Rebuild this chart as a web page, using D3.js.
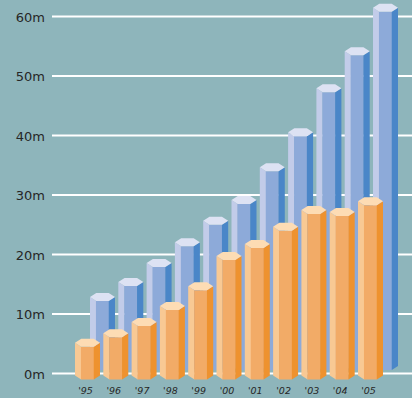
<!DOCTYPE html>
<html>
<head>
<meta charset="utf-8">
<script src="https://cdn.jsdelivr.net/npm/d3@7"></script>
<style>
  html, body { margin: 0; padding: 0; background: #8eb5bb; }
  svg { display: block; }
</style>
</head>
<body>
<div id="chart"></div>
<script>
// chart data
const years = ["'95", "'96", "'97", "'98", "'99", "'00", "'01", "'02", "'03", "'04", "'05"];
const backSeries = [11.6, 14.1, 17.3, 20.8, 24.4, 27.9, 33.4, 39.3, 46.7, 52.9, 60.2];   // blue, back row
const frontSeries = [5.5, 7.1, 9.0, 11.7, 15.0, 20.1, 22.1, 25.0, 27.8, 27.5, 29.3];   // orange, front row
const yTicks = [0, 10, 20, 30, 40, 50, 60];

const width = 412, height = 398;

const svg = d3.select('#chart').append('svg')
    .attr('width', width)
    .attr('height', height);

// scales
const x = d3.scaleBand()
    .domain(years)
    .range([75, 383])
    .paddingInner(0.117)
    .paddingOuter(0);

const y = d3.scaleLinear()
    .domain([0, 60])
    .range([373.5, 16.5]);

// gridlines
svg.append('g')
    .selectAll('line')
    .data(yTicks)
    .enter()
    .append('line')
    .attr('x1', 52)
    .attr('x2', width)
    .attr('y1', d => y(d))
    .attr('y2', d => y(d))
    .attr('stroke', '#ffffff')
    .attr('stroke-width', 2);

// y labels
svg.append('g')
    .selectAll('text')
    .data(yTicks)
    .enter()
    .append('text')
    .attr('x', 45)
    .attr('y', d => y(d) + 5)
    .attr('text-anchor', 'end')
    .attr('font-family', 'DejaVu Sans, Verdana, sans-serif')
    .attr('font-size', 13)
    .attr('fill', '#262626')
    .text(d => d + 'm');

// x labels
svg.append('g')
    .selectAll('text')
    .data(years)
    .enter()
    .append('text')
    .attr('x', d => x(d) + x.bandwidth() / 2 - 2)
    .attr('y', 394)
    .attr('text-anchor', 'middle')
    .attr('font-family', 'DejaVu Sans, Verdana, sans-serif')
    .attr('font-style', 'italic')
    .attr('font-size', 9.5)
    .attr('fill', '#262626')
    .text(d => d);

// hexagonal prism helper
const r = x.bandwidth() / 2;
const k = 4;

function pts(list) {
    return list.map(p => p.join(',')).join(' ');
}

function drawRow(values, dx, dy, colors) {
    const g = svg.append('g');
    const bars = g.selectAll('g')
        .data(values.map((v, i) => ({ year: years[i], value: v })))
        .enter()
        .append('g');

    const cxOf = d => x(d.year) + r + dx;
    const topOf = d => y(d.value) + dy;
    const base = y(0) + dy;

    bars.append('polygon')
        .attr('fill', colors.left)
        .attr('points', d => {
            const cx = cxOf(d), t = topOf(d);
            return pts([[cx - r, t], [cx - r / 2, t + k], [cx - r / 2, base + k], [cx - r, base]]);
        });

    bars.append('polygon')
        .attr('fill', colors.front)
        .attr('points', d => {
            const cx = cxOf(d), t = topOf(d);
            return pts([[cx - r / 2 - 0.3, t + k], [cx + r / 2 + 0.3, t + k], [cx + r / 2 + 0.3, base + k], [cx - r / 2 - 0.3, base + k]]);
        });

    bars.append('polygon')
        .attr('fill', colors.right)
        .attr('points', d => {
            const cx = cxOf(d), t = topOf(d);
            return pts([[cx + r / 2, t + k], [cx + r, t], [cx + r, base], [cx + r / 2, base + k]]);
        });

    bars.append('polygon')
        .attr('fill', colors.cap)
        .attr('points', d => {
            const cx = cxOf(d), t = topOf(d);
            return pts([[cx - r, t], [cx - r / 2, t - k], [cx + r / 2, t - k], [cx + r, t], [cx + r / 2, t + k], [cx - r / 2, t + k]]);
        });
}

// back row first, then front row on top of it
drawRow(backSeries, 15, -7.5, { left: '#c2cce9', front: '#8daad9', right: '#4a86c8', cap: '#dde2f3' });
drawRow(frontSeries, 0, 2, { left: '#f8c994', front: '#f2ab67', right: '#ee922f', cap: '#fddcb4' });
</script>
</body>
</html>
